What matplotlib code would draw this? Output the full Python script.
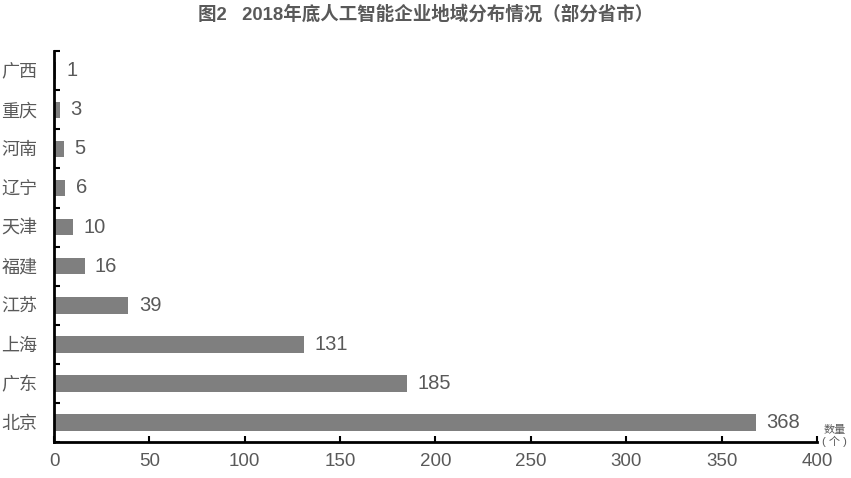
import matplotlib.pyplot as plt

plt.rcParams['font.family'] = ['Liberation Sans', 'Noto Sans CJK SC']

# data, bottom to top
provinces = ['北京', '广东', '上海', '江苏', '福建', '天津', '辽宁', '河南', '重庆', '广西']
counts = [368, 185, 131, 39, 16, 10, 6, 5, 3, 1]
xticks = [0, 50, 100, 150, 200, 250, 300, 350, 400]

txt = '#595959'

fig = plt.figure(figsize=(8.51, 4.78), dpi=100)
ax = fig.add_axes([0.0635, 0.075, 0.8965, 0.818])

y = list(range(len(provinces)))
ax.barh(y, counts, height=0.42, color='#7f7f7f')

for yi, v in zip(y, counts):
    ax.annotate(str(v), (v, yi), xytext=(7.5, 0), textcoords='offset points',
                va='center', ha='left', fontsize=14.5, color=txt)

ax.set_xlim(0, 400)
ax.set_ylim(-0.5, len(provinces) - 0.5)
ax.set_xticks(xticks)
ax.set_yticks(y)
ax.set_yticklabels(provinces)
ax.set_yticks([i + 0.5 for i in range(-1, len(provinces))], minor=True)

for s in ['top', 'right']:
    ax.spines[s].set_visible(False)
for s in ['left', 'bottom']:
    ax.spines[s].set_linewidth(2)

ax.tick_params(axis='x', direction='in', length=4, width=1.5, labelsize=13.5,
               labelcolor=txt, pad=8)
ax.tick_params(axis='y', which='major', length=0, labelsize=13, labelcolor=txt, pad=12)
ax.tick_params(axis='y', which='minor', direction='in', length=4, width=1.5)

fig.text(0.5, 0.97, '图2   2018年底人工智能企业地域分布情况（部分省市）',
         ha='center', va='center', fontsize=13.3, fontweight='bold', color=txt,
         family=['Liberation Sans', 'Noto Sans CJK SC'])
fig.text(0.981, 0.088, '数量\n( 个 )', ha='center', va='center', fontsize=8,
         color=txt, linespacing=1.15)

fig.savefig('out.png', dpi=100)
